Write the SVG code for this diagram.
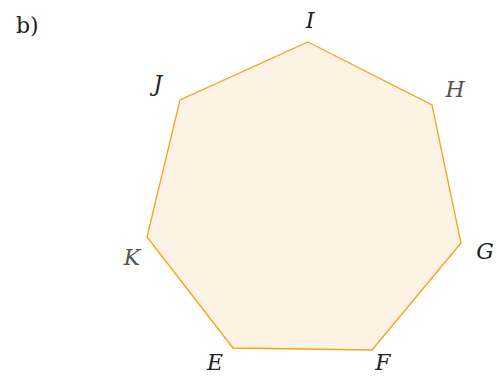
<svg xmlns="http://www.w3.org/2000/svg" width="497" height="377" viewBox="0 0 497 377">
<style>
text{font-family:'DejaVu Serif',serif}
.lbl{font-style:italic;font-size:22px;text-anchor:middle;fill:#222}
.gray{fill:#555}
.poly{fill:#fdf3e4;stroke:#f7a21b;stroke-width:1.3;stroke-linejoin:miter}
</style>
<rect width="497" height="377" fill="#fff"/>
<text x="16" y="33" font-size="22" fill="#222">b)</text>
<g id="heptagon">
<polygon class="poly" points="308,42 432,105 461,243 372,350 233,348 147,237 180,100"/>
</g>
<g id="labels">
<text class="lbl" x="310" y="28">I</text>
<text class="lbl gray" x="455" y="97">H</text>
<text class="lbl" x="485" y="259">G</text>
<text class="lbl" x="383" y="370">F</text>
<text class="lbl" x="215" y="370">E</text>
<text class="lbl gray" x="132" y="265">K</text>
<text class="lbl" x="158" y="91">J</text>
</g>
</svg>
